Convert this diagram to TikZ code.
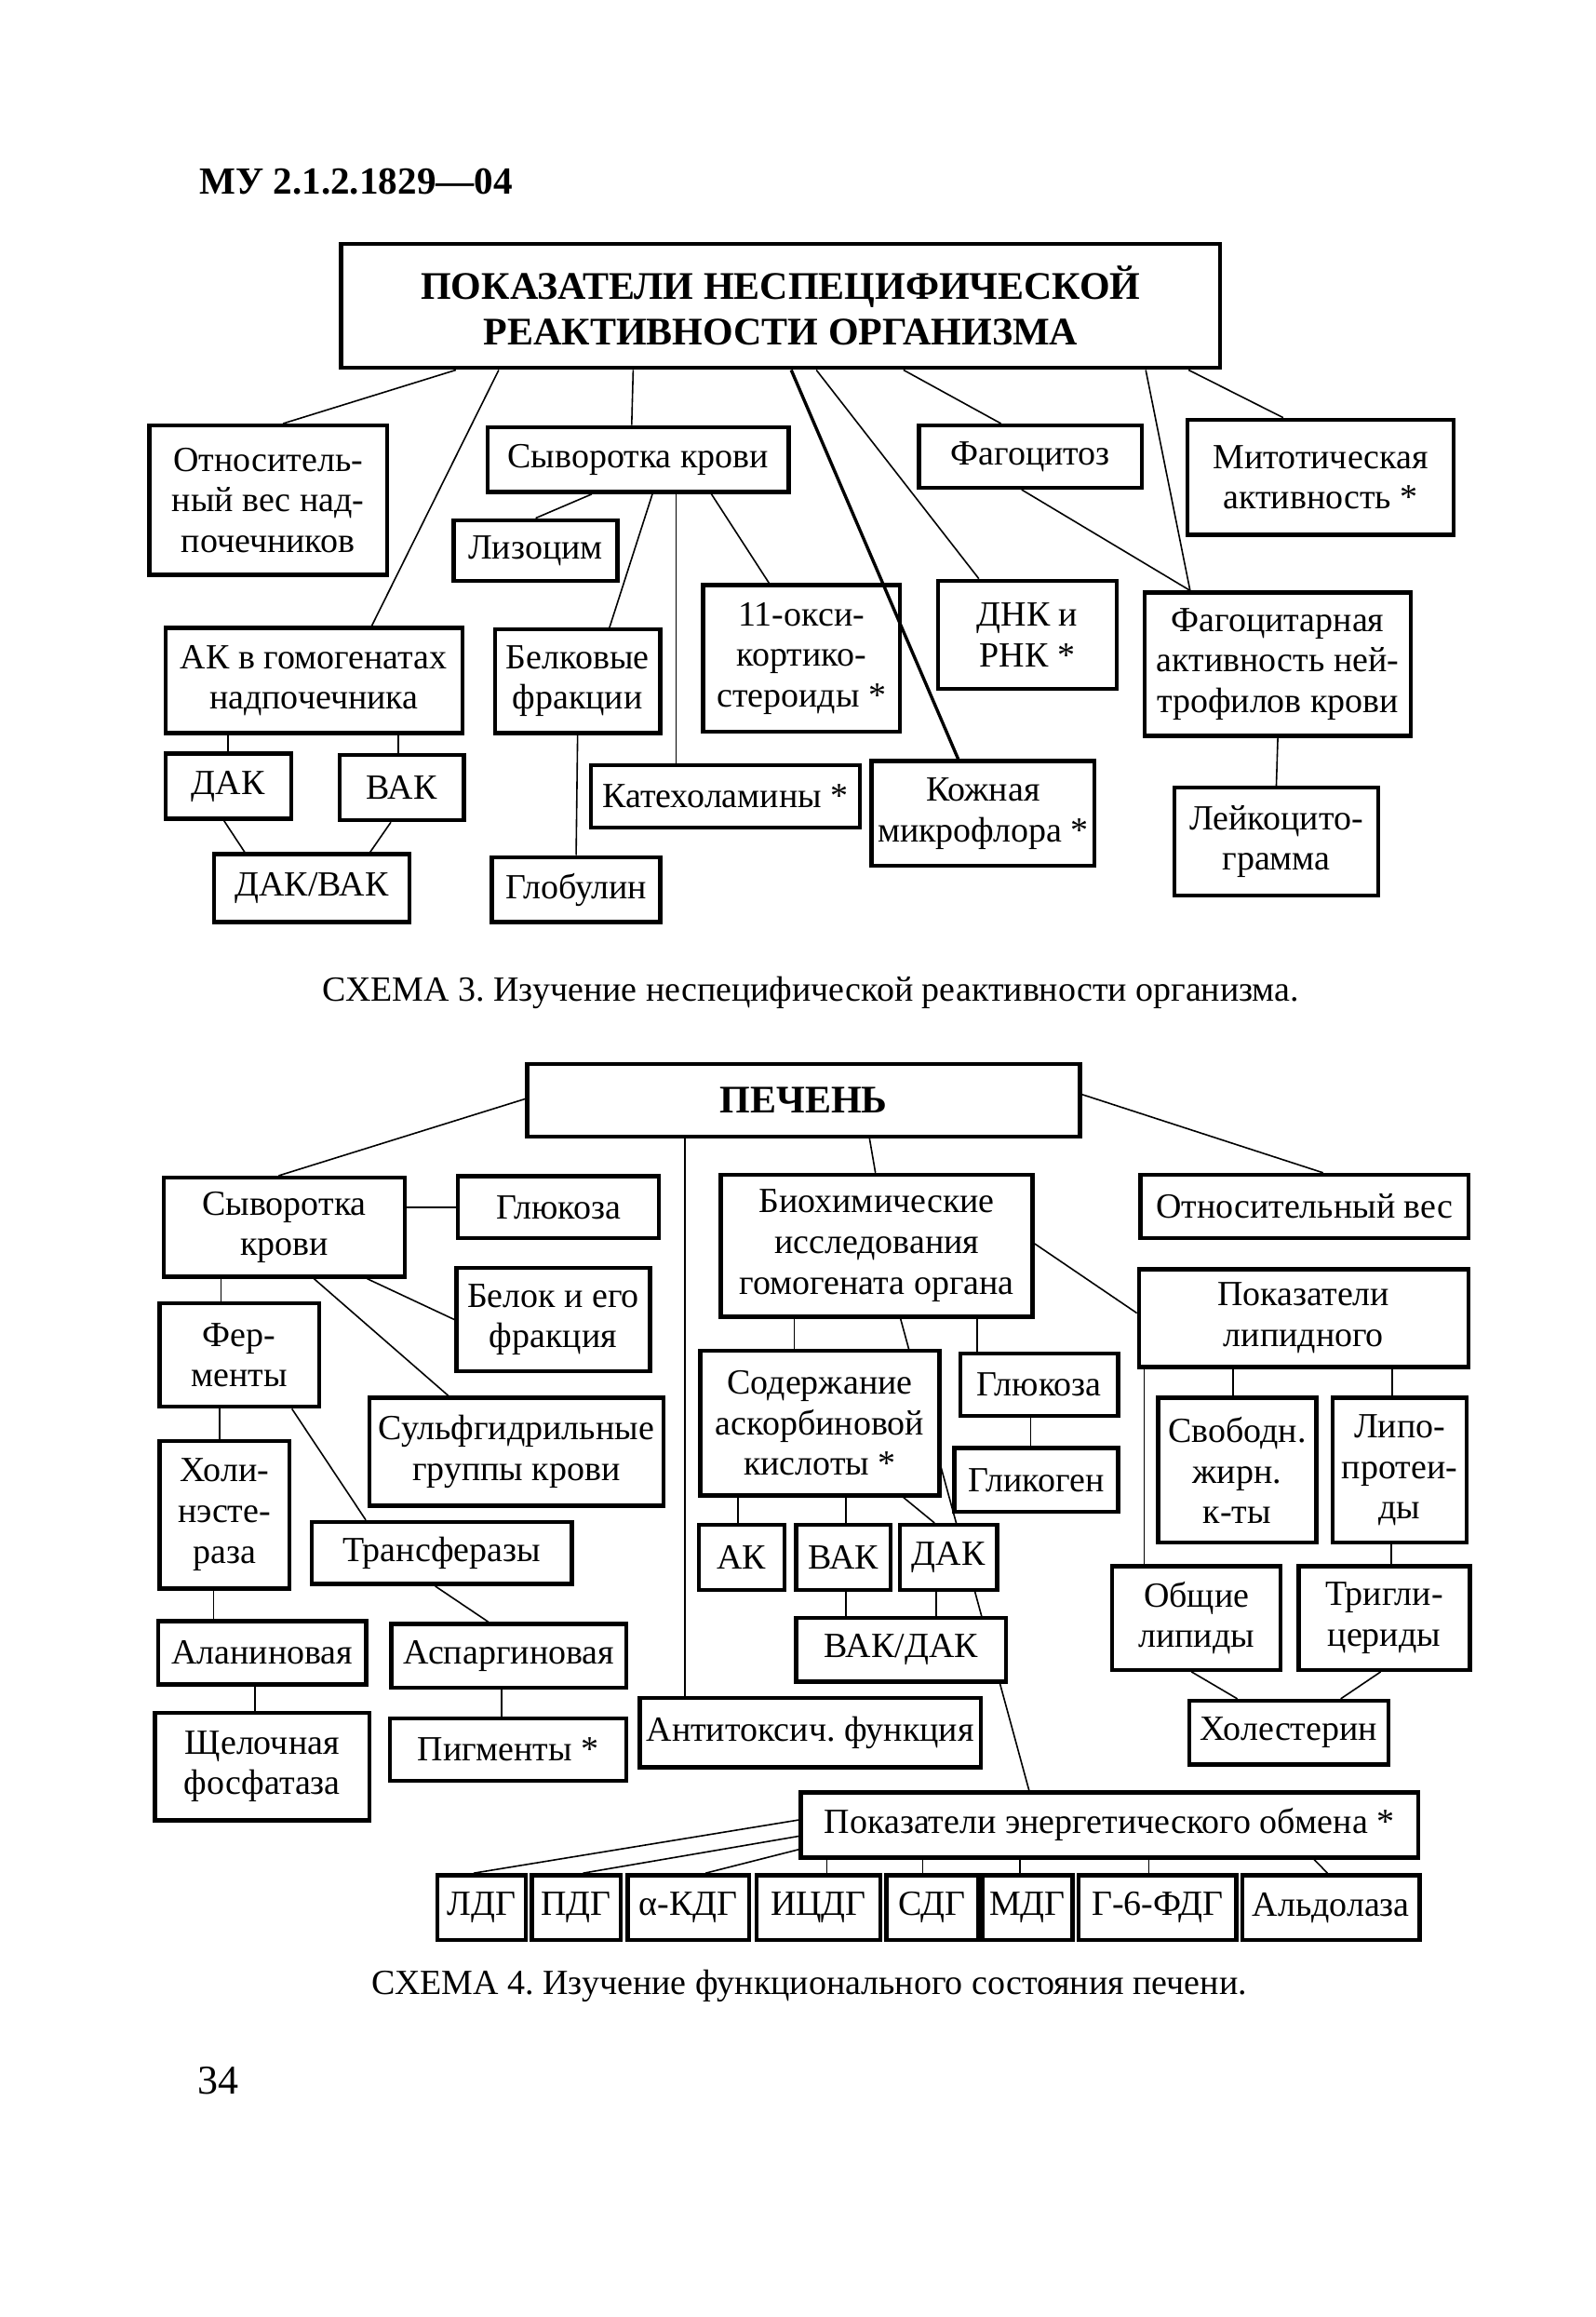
\documentclass[tikz,border=0pt]{standalone}
\usepackage{fontspec}
\setmainfont{Liberation Serif}
\usetikzlibrary{calc, backgrounds}
\frenchspacing

\tikzset{
  box/.style = {draw, line width=1.1pt, fill=white, align=center, inner sep=0pt,
                font=\fontsize{9.5}{10.9}\selectfont},
  sz/.style 2 args = {minimum width=#1*0.397pt, minimum height=#2*0.397pt},
  head/.style = {font=\fontsize{10.5}{12.3}\selectfont\bfseries},
  link/.style = {line width=0.85pt},
  caption/.style = {inner sep=0pt, font=\fontsize{9.5}{12}\selectfont},
}

\begin{document}
\begin{tikzpicture}[x=0.397pt, y=-0.397pt]
  \useasboundingbox (0,0) rectangle (1080,1568);

  \node[inner sep=0pt, font=\fontsize{10.3}{13}\selectfont\bfseries] (code) at (241,123) {МУ 2.1.2.1829---04};

  % scheme 3
  \node[box, head, sz={595}{84}] (title) at (528.5,207) {ПОКАЗАТЕЛИ НЕСПЕЦИФИЧЕСКОЙ\\РЕАКТИВНОСТИ ОРГАНИЗМА};
  \node[box, sz={161}{101}] (otn)    at (181.5,338.5) {Относитель-\\ный вес над-\\почечников};
  \node[box, sz={204}{44}]  (syv)    at (432,311)     {Сыворотка крови};
  \node[box, sz={151}{42}]  (fag)    at (697.5,309)   {Фагоцитоз};
  \node[box, sz={180}{78}]  (mit)    at (894,323)     {Митотическая\\активность *};
  \node[box, sz={111}{41}]  (liz)    at (362.5,372.5) {Лизоцим};
  \node[box, sz={133}{99}]  (oksi)   at (542.5,445.5) {11-окси-\\кортико-\\стероиды *};
  \node[box, sz={121}{73}]  (dnk)    at (695.5,429.5) {ДНК и\\РНК *};
  \node[box, sz={180}{97}]  (fagakt) at (865,449.5)   {Фагоцитарная\\активность ней-\\трофилов крови};
  \node[box, sz={201}{71}]  (ak)     at (212.5,460.5) {АК в гомогенатах\\надпочечника};
  \node[box, sz={112}{70}]  (belk)   at (391,461)     {Белковые\\фракции};
  \node[box, sz={182}{42}]  (kat)    at (491,539)     {Катехоламины *};
  \node[box, sz={151}{71}]  (kozh)   at (665.5,550.5) {Кожная\\микрофлора *};
  \node[box, sz={138}{73}]  (leik)   at (864,569.5)   {Лейкоцито-\\грамма};
  \node[box, sz={85}{44}]   (dak)    at (154.5,532)   {ДАК};
  \node[box, sz={84}{44}]   (vak)    at (272,533)     {ВАК};
  \node[box, sz={132}{46}]  (dakvak) at (211,601)     {ДАК/ВАК};
  \node[box, sz={114}{44}]  (glob)   at (390,602)     {Глобулин};

  \begin{scope}[on background layer, link]
    \draw ($(title.south west)+(79,0)$)  -- ($(otn.north west)+(92,0)$);
    \draw ($(title.south west)+(108,0)$) -- ($(ak.north west)+(141,0)$);
    \draw ($(title.south west)+(199,0)$) -- ($(syv.north west)+(99,0)$);
    \draw ($(title.south west)+(323,0)$) -- ($(dnk.north west)+(29,0)$);
    \draw ($(title.south west)+(382,0)$) -- ($(fag.north west)+(57,0)$);
    \draw ($(title.south west)+(546,0)$) -- ($(fagakt.north west)+(32,0)$);
    \draw ($(title.south west)+(575,0)$) -- ($(mit.north west)+(66,0)$);
    \draw ($(fag.south west)+(71,0)$)    -- ($(fagakt.north west)+(32,0)$);
    \draw ($(syv.south west)+(72,0)$)    -- ($(liz.north west)+(57,0)$);
    \draw ($(syv.south west)+(113,0)$)   -- ($(belk.north west)+(79,0)$);
    \draw ($(syv.south west)+(129,0)$)   -- ($(kat.north west)+(59,0)$);
    \draw ($(syv.south west)+(153,0)$)   -- ($(oksi.north west)+(46,0)$);
    \draw (dak.north |- ak.south) -- (dak.north);
    \draw ($(vak.north west)+(41,0)$) -- ($(ak.south west)+(159,0)$);
    \draw ($(dak.south west)+(41,0)$) -- ($(dakvak.north west)+(22,0)$);
    \draw ($(vak.south west)+(36,0)$) -- ($(dakvak.north west)+(107,0)$);
    \draw (belk.south) -- (glob.north);
    \draw (fagakt.south) -- (leik.north);
  \end{scope}
  \draw[link] ($(title.south west)+(306,0)$) -- ($(kozh.north west)+(60,0)$);

  \node[caption] (cap3) at (549,672) {СХЕМА 3. Изучение неспецифической реактивности организма.};

  % scheme 4
  \node[box, head, sz={374}{49}] (pech) at (544,744.5) {ПЕЧЕНЬ};
  \node[box, sz={163}{67}]  (syv2)   at (192.5,830.5) {Сыворотка\\крови};
  \node[box, sz={136}{42}]  (glu1)   at (378,817)     {Глюкоза};
  \node[box, sz={131}{70}]  (bel)    at (374.5,893)   {Белок и его\\фракция};
  \node[box, sz={108}{70}]  (ferm)   at (162,917)     {Фер-\\менты};
  \node[box, sz={199}{73}]  (sulf)   at (349.5,982.5) {Сульфгидрильные\\группы крови};
  \node[box, sz={88}{100}]  (hol)    at (152,1025)    {Холи-\\нэсте-\\раза};
  \node[box, sz={176}{42}]  (trans)  at (299,1051)    {Трансферазы};
  \node[box, sz={141}{43}]  (alan)   at (177.5,1118.5) {Аланиновая};
  \node[box, sz={159}{43}]  (asp)    at (344.5,1120.5) {Аспаргиновая};
  \node[box, sz={145}{73}]  (shel)   at (177.5,1195.5) {Щелочная\\фосфатаза};
  \node[box, sz={160}{42}]  (pigm)   at (344,1184)    {Пигменты *};
  \node[box, sz={231}{47}]  (anti)   at (548.5,1172.5) {Антитоксич. функция};
  \node[box, sz={211}{96}]  (bio)    at (593.5,843)   {Биохимические\\исследования\\гомогената органа};
  \node[box, sz={162}{98}]  (askor)  at (555,963)     {Содержание\\аскорбиновой\\кислоты *};
  \node[box, sz={107}{42}]  (glu2)   at (703.5,937)   {Глюкоза};
  \node[box, sz={111}{43}]  (glik)   at (701.5,1001.5) {Гликоген};
  \node[box, sz={58}{44}]   (ak2)    at (502,1054)    {АК};
  \node[box, sz={64}{44}]   (vak2)   at (571,1054)    {ВАК};
  \node[box, sz={66}{44}]   (dak2)   at (642,1054)    {ДАК};
  \node[box, sz={142}{43}]  (vakdak) at (610,1116.5)  {ВАК/ДАК};
  \node[box, sz={222}{43}]  (otnves) at (883,816.5)   {Относительный вес};
  \node[box, sz={223}{66}]  (lip)    at (882.5,892)   {Показатели\\липидного};
  \node[box, sz={107}{98}]  (svob)   at (837.5,995)   {Свободн.\\жирн.\\к-ты};
  \node[box, sz={91}{98}]   (lipo)   at (947.5,995)   {Липо-\\протеи-\\ды};
  \node[box, sz={114}{70}]  (obsh)   at (810,1095)    {Общие\\липиды};
  \node[box, sz={116}{70}]  (trig)   at (937,1095)    {Тригли-\\цериды};
  \node[box, sz={135}{43}]  (hol2)   at (872.5,1172.5) {Холестерин};
  \node[box, sz={418}{44}]  (energ)  at (751,1235)    {Показатели энергетического обмена *};
  \node[box, sz={60}{44}]   (ldg)    at (326,1291)    {ЛДГ};
  \node[box, sz={60}{44}]   (pdg)    at (390,1291)    {ПДГ};
  \node[box, sz={82}{44}]   (akdg)   at (466,1291)    {α-КДГ};
  \node[box, sz={84}{44}]   (icdg)   at (554,1291)    {ИЦДГ};
  \node[box, sz={62}{44}]   (sdg)    at (631,1291)    {СДГ};
  \node[box, sz={61}{44}]   (mdg)    at (695.5,1291)  {МДГ};
  \node[box, sz={107}{44}]  (gfdg)   at (783.5,1291)  {Г-6-ФДГ};
  \node[box, sz={120}{44}]  (aldol)  at (901,1291)    {Альдолаза};

  \begin{scope}[on background layer, link]
    \draw ($(pech.north west)+(0,25)$)  -- ($(syv2.north west)+(79,0)$);
    \draw ($(pech.south west)+(108,0)$) -- ($(anti.north west)+(32,0)$);
    \draw ($(pech.south west)+(233,0)$) -- ($(bio.north west)+(106,0)$);
    \draw ($(pech.north east)+(0,22)$)  -- ($(otnves.north west)+(125,0)$);
    \draw (syv2.east |- glu1.west) -- (glu1.west);
    \draw ($(syv2.south west)+(139,0)$) -- (bel.west);
    \draw ($(syv2.south west)+(103,0)$) -- ($(sulf.north west)+(55,0)$);
    \draw ($(syv2.south west)+(40,0)$)  -- ($(ferm.north west)+(43,0)$);
    \draw ($(ferm.south west)+(42,0)$)  -- ($(hol.north west)+(42,0)$);
    \draw ($(ferm.south west)+(91,0)$)  -- ($(trans.north west)+(38,0)$);
    \draw ($(hol.south west)+(38,0)$)   -- ($(alan.north west)+(39,0)$);
    \draw ($(alan.south west)+(67,0)$)  -- ($(shel.north west)+(69,0)$);
    \draw ($(trans.south west)+(85,0)$) -- ($(asp.north west)+(67,0)$);
    \draw ($(asp.south west)+(76,0)$)   -- ($(pigm.north west)+(77,0)$);
    \draw ($(bio.south west)+(51,0)$)   -- ($(askor.north west)+(65,0)$);
    \draw ($(bio.south west)+(123,0)$)  -- ($(energ.north west)+(156,0)$);
    \draw ($(bio.south west)+(175,0)$)  -- ($(glu2.north west)+(13,0)$);
    \draw ($(glu2.south west)+(49,0)$)  -- ($(glik.north west)+(53,0)$);
    \draw ($(bio.north east)+(0,48)$)   -- ($(lip.north west)+(0,31)$);
    \draw ($(lip.south west)+(65,0)$)   -- ($(svob.north west)+(52,0)$);
    \draw ($(lip.south west)+(173,0)$)  -- ($(lipo.north west)+(42,0)$);
    \draw ($(lip.south west)+(5,0)$)    -- ($(obsh.north west)+(23,0)$);
    \draw ($(lipo.south west)+(41,0)$)  -- ($(trig.north west)+(64,0)$);
    \draw ($(obsh.south west)+(55,0)$)  -- ($(hol2.north west)+(34,0)$);
    \draw ($(trig.south west)+(57,0)$)  -- ($(hol2.north west)+(104,0)$);
    \draw ($(askor.south west)+(27,0)$) -- ($(ak2.north west)+(28,0)$);
    \draw ($(askor.south west)+(100,0)$) -- ($(vak2.north west)+(35,0)$);
    \draw ($(askor.south west)+(139,0)$) -- ($(dak2.north west)+(25,0)$);
    \draw ($(vak2.south west)+(35,0)$)  -- ($(vakdak.north west)+(35,0)$);
    \draw ($(dak2.south west)+(26,0)$)  -- ($(vakdak.north west)+(96,0)$);
    \draw ($(energ.north west)+(0,20)$) -- ($(ldg.north west)+(26,0)$);
    \draw ($(energ.north west)+(0,31)$) -- ($(pdg.north west)+(36,0)$);
    \draw ($(energ.north west)+(0,40)$) -- ($(akdg.north west)+(54,0)$);
    \draw ($(energ.south west)+(19,0)$)  -- ($(icdg.north west)+(49,0)$);
    \draw ($(energ.south west)+(84,0)$)  -- ($(sdg.north west)+(26,0)$);
    \draw ($(energ.south west)+(150,0)$) -- ($(mdg.north west)+(27,0)$);
    \draw ($(energ.south west)+(237,0)$) -- ($(gfdg.north west)+(49,0)$);
    \draw ($(energ.south west)+(349,0)$) -- ($(aldol.north west)+(59,0)$);
  \end{scope}

  \node[caption] (cap4) at (548,1344) {СХЕМА 4. Изучение функционального состояния печени.};
  \node[caption, font=\fontsize{11}{13}\selectfont] (page) at (148,1408) {34};
\end{tikzpicture}
\end{document}
